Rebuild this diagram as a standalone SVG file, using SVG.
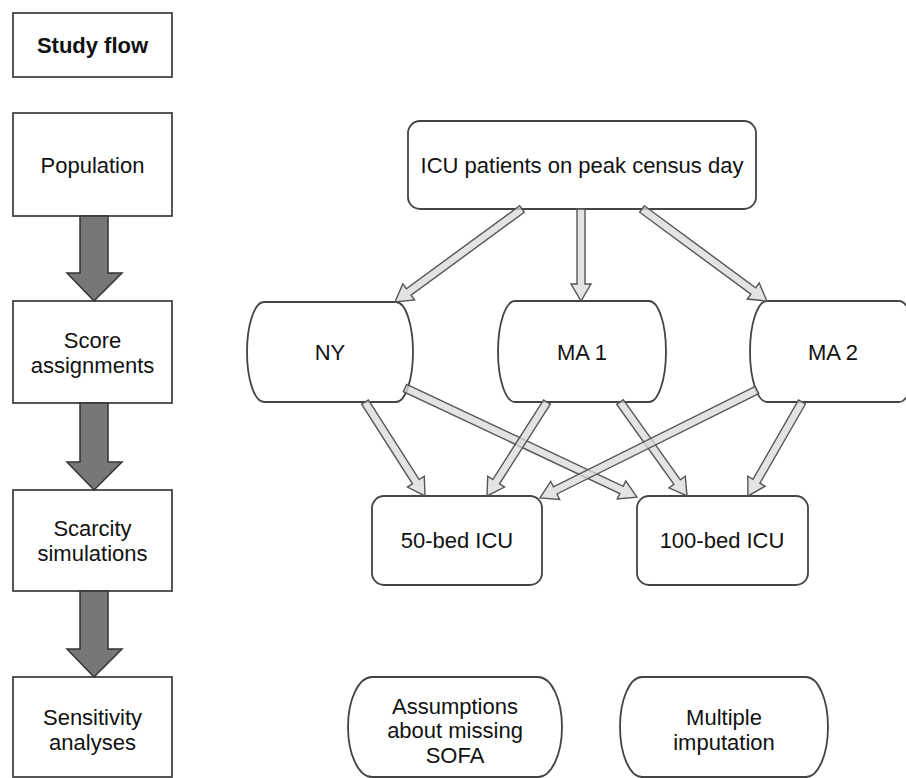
<svg xmlns="http://www.w3.org/2000/svg" width="906" height="778" viewBox="0 0 906 778">
<style>
.box{fill:#fff;stroke:#444;stroke-width:1.8}
.t{font-family:"Liberation Sans",Arial,sans-serif;font-size:22px;fill:#111;text-anchor:middle;dominant-baseline:central}
.b{font-weight:bold}
.big{fill:#777;stroke:#333;stroke-width:1.5}
.con path{fill:#d9d9d9;fill-opacity:0.75;stroke:#555;stroke-width:1.4;stroke-linejoin:miter}
</style>
<rect width="906" height="778" fill="#fff"/>
<g id="study-flow"><rect class="box" x="13" y="13" width="159" height="64"/><text class="t b" x="92.5" y="45">Study flow</text></g>
<g id="population"><rect class="box" x="13" y="113" width="159" height="103"/><text class="t" x="92.5" y="165">Population</text></g>
<g id="score"><rect class="box" x="13" y="301" width="159" height="102"/><text class="t" x="92.5" y="340">Score</text><text class="t" x="92.5" y="365">assignments</text></g>
<g id="scarcity"><rect class="box" x="13" y="490" width="159" height="101"/><text class="t" x="92.5" y="528">Scarcity</text><text class="t" x="92.5" y="553">simulations</text></g>
<g id="sensitivity"><rect class="box" x="13" y="677" width="159" height="100"/><text class="t" x="92.5" y="717">Sensitivity</text><text class="t" x="92.5" y="742">analyses</text></g>
<g id="flow-arrows">
<path class="big" d="M80,216 V273 H67 L94,301 L122,273 H108 V216 Z"/>
<path class="big" d="M80,403 V462 H67 L94,490 L122,462 H108 V403 Z"/>
<path class="big" d="M80,591 V649 H67 L94,677 L122,649 H108 V591 Z"/>
</g>
<g id="icu-patients"><rect class="box" x="408" y="121" width="348" height="88" rx="12"/><text class="t" x="582" y="165">ICU patients on peak census day</text></g>
<g id="ny"><path class="box" d="M264,302 H396 A17,50 0 0 1 396,402 H264 A17,50 0 0 1 264,302 Z"/><text class="t" x="330" y="352">NY</text></g>
<g id="ma1"><path class="box" d="M515,301 H649 A17,50.5 0 0 1 649,402 H515 A17,50.5 0 0 1 515,301 Z"/><text class="t" x="582" y="352">MA 1</text></g>
<g id="ma2"><path class="box" d="M767,301 H899 A17,50.5 0 0 1 899,402 H767 A17,50.5 0 0 1 767,301 Z"/><text class="t" x="833" y="352">MA 2</text></g>
<g id="bed50"><rect class="box" x="372" y="496" width="170" height="89" rx="12"/><text class="t" x="457" y="540">50-bed ICU</text></g>
<g id="bed100"><rect class="box" x="637" y="496" width="171" height="89" rx="12"/><text class="t" x="722" y="540">100-bed ICU</text></g>
<g id="assumptions"><path class="box" d="M372,677 H538 A24,50 0 0 1 538,777 H372 A24,50 0 0 1 372,677 Z"/><text class="t" x="455" y="706">Assumptions</text><text class="t" x="455" y="730.5">about missing</text><text class="t" x="455" y="755">SOFA</text></g>
<g id="multiple"><path class="box" d="M642,677 H806 A22,50 0 0 1 806,777 H642 A22,50 0 0 1 642,677 Z"/><text class="t" x="724" y="717">Multiple</text><text class="t" x="724" y="742">imputation</text></g>
<g id="connectors" class="con">
<g transform="translate(522,209) rotate(143.8)"><path d="M0,-4 H140.4 V-10 L157.4,0 L140.4,10 V4 H0 Z"/></g>
<g transform="translate(581,209) rotate(90)"><path d="M0,-4 H75 V-10 L92,0 L75,10 V4 H0 Z"/></g>
<g transform="translate(642,209) rotate(36.4)"><path d="M0,-4 H138.2 V-10 L155.2,0 L138.2,10 V4 H0 Z"/></g>
<g transform="translate(365,402) rotate(57.45)"><path d="M0,-4 H94.5 V-10 L111.5,0 L94.5,10 V4 H0 Z"/></g>
<g transform="translate(405,388) rotate(25.2)"><path d="M0,-4 H239.3 V-10 L256.3,0 L239.3,10 V4 H0 Z"/></g>
<g transform="translate(547,402) rotate(122.55)"><path d="M0,-4 H94.5 V-10 L111.5,0 L94.5,10 V4 H0 Z"/></g>
<g transform="translate(620,402) rotate(54.5)"><path d="M0,-4 H98.4 V-10 L115.4,0 L98.4,10 V4 H0 Z"/></g>
<g transform="translate(757,390) rotate(153.55)"><path d="M0,-4 H225.4 V-10 L242.4,0 L225.4,10 V4 H0 Z"/></g>
<g transform="translate(802,402) rotate(119.9)"><path d="M0,-4 H91.4 V-10 L108.4,0 L91.4,10 V4 H0 Z"/></g>
</g>
</svg>
